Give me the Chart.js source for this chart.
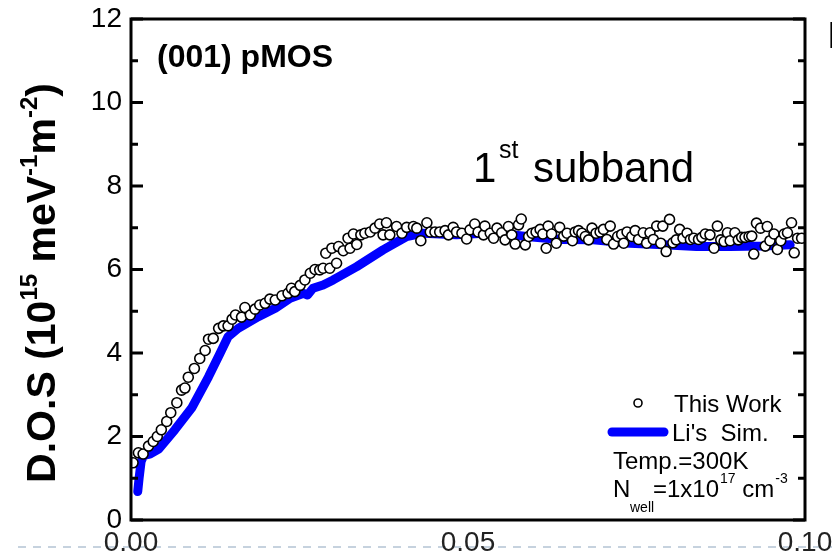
<!DOCTYPE html>
<html>
<head>
<meta charset="utf-8">
<script src="https://cdn.jsdelivr.net/npm/chart.js@4.4.1/dist/chart.umd.min.js"></script>
<style>
  html, body { margin: 0; padding: 0; background: #ffffff; }
  #wrap { width: 832px; height: 560px; }
</style>
</head>
<body>
<div id="wrap"><canvas id="dos" width="832" height="560"></canvas></div>
<script>
// Measured density of states (first subband), energy in eV vs D.O.S in 1e15 meV^-1 m^-2
const measuredE = [
  0.0003, 0.0011, 0.0018, 0.0026, 0.0033, 0.0039, 0.0045, 0.0053, 0.0059, 0.0068,
  0.0075, 0.0080, 0.0085, 0.0094, 0.0102, 0.0110, 0.0115, 0.0122, 0.0130, 0.0137,
  0.0144, 0.0150, 0.0155, 0.0164, 0.0169, 0.0177, 0.0184, 0.0191, 0.0199, 0.0206,
  0.0214, 0.0224, 0.0233, 0.0238, 0.0243, 0.0251, 0.0258, 0.0266, 0.0273, 0.0280,
  0.0285, 0.0289, 0.0295, 0.0298, 0.0305, 0.0308, 0.0315, 0.0322, 0.0325, 0.0330,
  0.0335, 0.0341, 0.0347, 0.0355, 0.0362, 0.0369, 0.0374, 0.0379, 0.0384, 0.0394,
  0.0402, 0.0409, 0.0419, 0.0424, 0.0430, 0.0439, 0.0444, 0.0451, 0.0458, 0.0466,
  0.0471, 0.0478, 0.0483, 0.0491, 0.0498, 0.0503, 0.0510, 0.0515, 0.0523, 0.0525,
  0.0533, 0.0538, 0.0543, 0.0550, 0.0555, 0.0560, 0.0565, 0.0570, 0.0575, 0.0579,
  0.0585, 0.0590, 0.0595, 0.0601, 0.0607, 0.0611, 0.0616, 0.0619, 0.0624, 0.0631,
  0.0636, 0.0642, 0.0647, 0.0655, 0.0659, 0.0664, 0.0669, 0.0674, 0.0679, 0.0684,
  0.0690, 0.0696, 0.0701, 0.0706, 0.0711, 0.0716, 0.0722, 0.0728, 0.0731, 0.0736,
  0.0743, 0.0748, 0.0753, 0.0760, 0.0765, 0.0770, 0.0775, 0.0780, 0.0786, 0.0789,
  0.0794, 0.0799, 0.0804, 0.0809, 0.0814, 0.0819, 0.0825, 0.0830, 0.0835, 0.0842,
  0.0847, 0.0852, 0.0859, 0.0865, 0.0870, 0.0875, 0.0880, 0.0885, 0.0889, 0.0896,
  0.0901, 0.0906, 0.0911, 0.0917, 0.0921, 0.0924, 0.0928, 0.0934, 0.0941, 0.0944,
  0.0948, 0.0954, 0.0959, 0.0964, 0.0969, 0.0974, 0.0980, 0.0984, 0.0989, 0.0995
];
const measuredDOS = [
  1.37, 1.61, 1.58, 1.77, 1.88, 2.00, 2.16, 2.36, 2.57, 2.81,
  3.11, 3.16, 3.42, 3.63, 3.87, 4.06, 4.33, 4.35, 4.59, 4.65,
  4.65, 4.81, 4.91, 4.86, 5.09, 4.91, 5.05, 5.15, 5.19, 5.29,
  5.27, 5.37, 5.43, 5.55, 5.47, 5.62, 5.75, 5.91, 6.00, 5.99,
  6.03, 6.39, 6.03, 6.51, 6.15, 6.55, 6.45, 6.75, 6.51, 6.85,
  6.60, 6.83, 6.87, 6.90, 6.99, 7.09, 6.83, 7.12, 6.83, 7.03,
  6.87, 7.01, 7.03, 6.99, 6.69, 7.12, 6.90, 6.90, 6.90, 6.93,
  6.83, 7.01, 6.90, 6.87, 6.73, 6.95, 7.09, 6.90, 6.83, 7.04,
  6.87, 6.75, 6.99, 6.88, 6.71, 7.03, 6.83, 6.61, 7.07, 7.21,
  6.59, 6.79, 6.87, 6.90, 6.96, 6.85, 6.51, 7.04, 6.85, 6.63,
  7.01, 6.80, 6.87, 6.69, 6.90, 6.93, 6.87, 6.79, 6.71, 6.99,
  6.87, 6.90, 6.96, 6.72, 7.04, 6.61, 6.79, 6.84, 6.63, 6.90,
  6.79, 6.93, 6.72, 6.88, 6.63, 6.88, 6.72, 7.04, 6.63, 7.04,
  6.43, 7.20, 6.64, 6.71, 6.96, 6.75, 6.87, 6.72, 6.75, 6.72,
  6.77, 6.85, 6.83, 6.51, 7.04, 6.71, 6.67, 6.88, 6.69, 6.88,
  6.71, 6.77, 6.77, 6.79, 6.80, 6.37, 7.11, 6.99, 6.56, 7.03,
  6.69, 6.85, 6.48, 6.69, 6.85, 6.88, 7.12, 6.40, 6.75, 6.75
];

// Li's simulation curve
const simE = [
  0.0010, 0.0012, 0.0015, 0.0019, 0.0028, 0.0041, 0.0065, 0.0090, 0.0115, 0.0132,
  0.0144, 0.0159, 0.0189, 0.0214, 0.0236, 0.0256, 0.0262, 0.0270, 0.0285, 0.0300,
  0.0335, 0.0374, 0.0409, 0.0434, 0.0483, 0.0537, 0.0587, 0.0637, 0.0686, 0.0740,
  0.0790, 0.0839, 0.0889, 0.0938, 0.0978
];
const simDOS = [
  0.68, 1.00, 1.40, 1.55, 1.58, 1.70, 2.16, 2.68, 3.43, 3.99,
  4.39, 4.59, 4.87, 5.07, 5.31, 5.43, 5.39, 5.55, 5.63, 5.75,
  6.07, 6.47, 6.79, 6.87, 6.83, 6.88, 6.79, 6.72, 6.71, 6.63,
  6.59, 6.55, 6.55, 6.56, 6.59
];

const xTickValues = [0.00, 0.05, 0.10];
const yTickValues = [0, 2, 4, 6, 8, 10, 12];
const yMinorValues = [1, 3, 5, 7, 9, 11];

const FONT = '"Liberation Sans", Arial, Helvetica, sans-serif';

// Draw a row of text runs (for super/subscripts) starting at x on baseline y
function drawRuns(ctx, runs, x, y) {
  let cx = x;
  for (const r of runs) {
    ctx.font = (r.bold ? 'bold ' : '') + r.size + 'px ' + FONT;
    ctx.fillText(r.t, cx + (r.dx || 0), y + (r.dy || 0));
    cx += ctx.measureText(r.t).width + (r.dx || 0);
  }
  return cx - x;
}
function runsWidth(ctx, runs) {
  let w = 0;
  for (const r of runs) {
    ctx.font = (r.bold ? 'bold ' : '') + r.size + 'px ' + FONT;
    w += ctx.measureText(r.t).width + (r.dx || 0);
  }
  return w;
}

// Dashed baseline running under the energy tick labels
const baselinePlugin = {
  id: 'baseline',
  beforeDraw(chart) {
    const ctx = chart.ctx;
    ctx.save();
    ctx.strokeStyle = '#b4c4d4';
    ctx.lineWidth = 1.6;
    ctx.setLineDash([8, 7]);
    ctx.beginPath();
    ctx.moveTo(18, 547);
    ctx.lineTo(832, 547);
    ctx.stroke();
    ctx.restore();
  }
};

// Boxed frame with inward ticks on both vertical sides, plus annotations
const framePlugin = {
  id: 'frame',
  afterDraw(chart) {
    const ctx = chart.ctx;
    const a = chart.chartArea;
    const y = chart.scales.y;
    ctx.save();
    ctx.strokeStyle = '#000';
    ctx.lineWidth = 3;
    ctx.setLineDash([]);
    ctx.strokeRect(a.left, a.top, a.right - a.left, a.bottom - a.top);
    ctx.beginPath();
    for (const v of yTickValues) {
      const py = y.getPixelForValue(v);
      ctx.moveTo(a.left, py); ctx.lineTo(a.left + 12, py);
      ctx.moveTo(a.right, py); ctx.lineTo(a.right - 12, py);
    }
    for (const v of yMinorValues) {
      const py = y.getPixelForValue(v);
      ctx.moveTo(a.left, py); ctx.lineTo(a.left + 7, py);
      ctx.moveTo(a.right, py); ctx.lineTo(a.right - 7, py);
    }
    ctx.stroke();

    ctx.fillStyle = '#000';
    ctx.textBaseline = 'alphabetic';
    ctx.textAlign = 'left';

    // panel label
    drawRuns(ctx, [{ t: '(001) pMOS', size: 32, bold: true }], 157, 67);

    // subband label
    drawRuns(ctx, [{ t: '1', size: 42 }], 473, 182);
    drawRuns(ctx, [{ t: 'st', size: 25 }], 499, 158);
    drawRuns(ctx, [{ t: 'subband', size: 42 }], 533, 182);

    // neighbouring panel letter at the far right edge
    drawRuns(ctx, [{ t: 'E', size: 36, bold: true }], 828, 48);

    // legend
    ctx.lineWidth = 1.6;
    ctx.strokeStyle = '#000';
    ctx.fillStyle = '#fff';
    ctx.beginPath();
    ctx.arc(638, 403, 4, 0, Math.PI * 2);
    ctx.fill(); ctx.stroke();
    ctx.fillStyle = '#000';
    drawRuns(ctx, [{ t: 'This Work', size: 24 }], 674, 412);

    ctx.strokeStyle = '#0000ff';
    ctx.lineWidth = 9;
    ctx.lineCap = 'round';
    ctx.beginPath();
    ctx.moveTo(612, 432); ctx.lineTo(664, 432);
    ctx.stroke();
    ctx.lineCap = 'butt';
    drawRuns(ctx, [{ t: "Li's  Sim.", size: 24 }], 672, 441);

    drawRuns(ctx, [{ t: 'Temp.=300K', size: 24 }], 613, 469);

    drawRuns(ctx, [{ t: 'N', size: 24 }], 613, 497);
    drawRuns(ctx, [{ t: 'well', size: 14 }], 630, 512);
    let cx = 653;
    cx += drawRuns(ctx, [{ t: '=1x10', size: 24 }], cx, 497);
    cx += drawRuns(ctx, [{ t: '17', size: 14 }], cx + 1, 483) + 1;
    cx += drawRuns(ctx, [{ t: ' cm', size: 24 }], cx, 497);
    drawRuns(ctx, [{ t: '-3', size: 14 }], cx + 1, 483);

    // vertical axis title
    const titleRuns = [
      { t: 'D.O.S (10', size: 41, bold: true },
      { t: '15', size: 24, bold: true, dy: -18 },
      { t: ' meV', size: 41, bold: true },
      { t: '-1', size: 24, bold: true, dy: -18 },
      { t: 'm', size: 41, bold: true },
      { t: '-2', size: 24, bold: true, dy: -18 },
      { t: ')', size: 41, bold: true }
    ];
    const tw = runsWidth(ctx, titleRuns);
    ctx.translate(55, 283);
    ctx.rotate(-Math.PI / 2);
    drawRuns(ctx, titleRuns, -tw / 2, 0);
    ctx.restore();
  }
};

const measuredPoints = measuredE.map((e, i) => ({ x: e, y: measuredDOS[i] }));
const simPoints = simE.map((e, i) => ({ x: e, y: simDOS[i] }));

new Chart(document.getElementById('dos'), {
  type: 'scatter',
  data: {
    datasets: [
      {
        label: 'This Work',
        data: measuredPoints,
        showLine: false,
        pointStyle: 'circle',
        pointRadius: 5,
        pointBorderWidth: 1.6,
        pointBorderColor: '#000000',
        pointBackgroundColor: '#ffffff'
      },
      {
        label: "Li's  Sim.",
        data: simPoints,
        showLine: true,
        borderColor: '#0000ff',
        borderWidth: 9,
        borderCapStyle: 'round',
        borderJoinStyle: 'round',
        pointRadius: 0,
        tension: 0
      }
    ]
  },
  options: {
    responsive: false,
    animation: false,
    devicePixelRatio: 1,
    layout: { padding: { top: 19, right: 27, left: 0, bottom: 0 } },
    plugins: {
      legend: { display: false },
      tooltip: { enabled: false }
    },
    scales: {
      x: {
        type: 'linear',
        position: 'bottom',
        min: 0,
        max: 0.1,
        grid: { display: false, drawTicks: false },
        border: { display: false },
        afterBuildTicks: (s) => { s.ticks = xTickValues.map(v => ({ value: v })); },
        afterFit: (s) => { s.height = 40; s.paddingLeft = 0; s.paddingRight = 0; },
        ticks: {
          autoSkip: false,
          maxRotation: 0,
          padding: 6,
          color: '#222222',
          font: { family: FONT, size: 28 },
          callback: (v) => Number(v).toFixed(2)
        }
      },
      y: {
        type: 'linear',
        min: 0,
        max: 12,
        grid: { display: false, drawTicks: false },
        border: { display: false },
        afterBuildTicks: (s) => { s.ticks = yTickValues.map(v => ({ value: v })); },
        afterFit: (s) => { s.width = 131; s.paddingTop = 0; s.paddingBottom = 0; },
        ticks: {
          autoSkip: false,
          padding: 9,
          color: '#000000',
          font: { family: FONT, size: 28 },
          callback: (v) => String(v)
        }
      }
    }
  },
  plugins: [baselinePlugin, framePlugin]
});
</script>
</body>
</html>
